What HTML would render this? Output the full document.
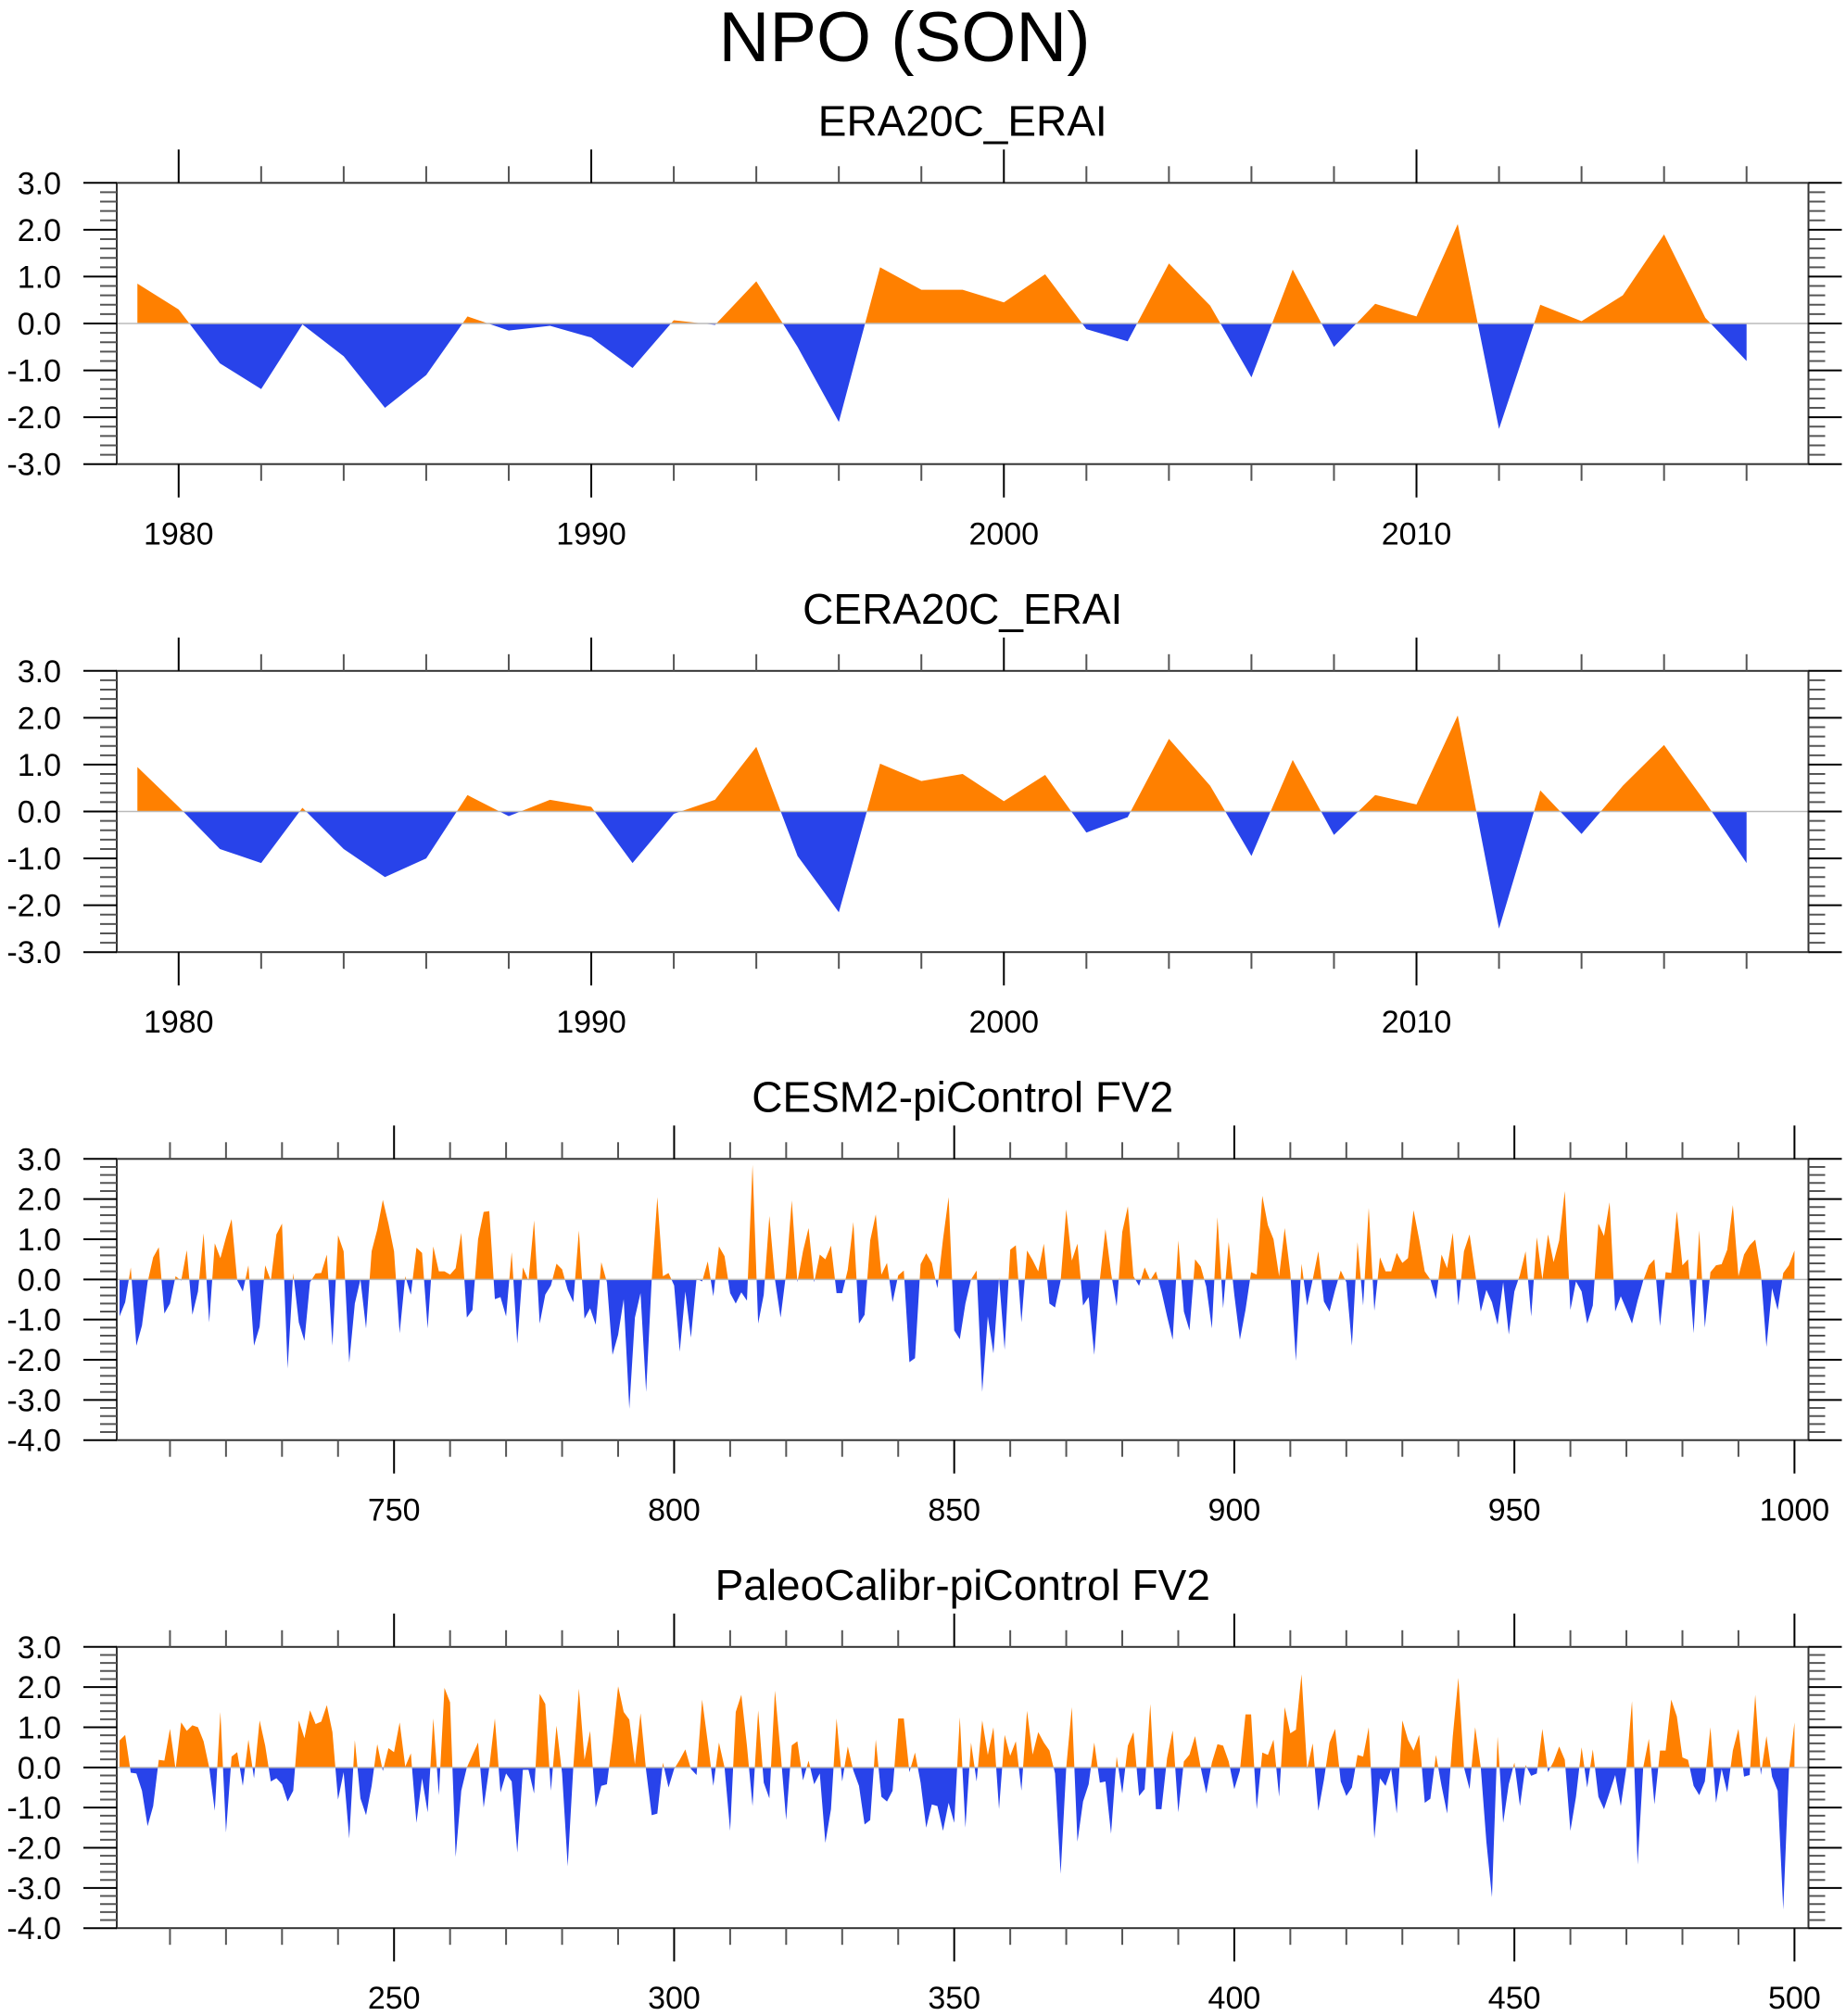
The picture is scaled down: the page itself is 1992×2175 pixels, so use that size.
<!DOCTYPE html>
<html><head><meta charset="utf-8"><style>
html,body{margin:0;padding:0;background:#fff}
svg{display:block}
text{font-family:"Liberation Sans",Arial,sans-serif;fill:#000}
</style></head>
<body>
<svg id="chart" width="1992" height="2175" viewBox="0 0 1992 2175" xmlns="http://www.w3.org/2000/svg">
<text x="976" y="66" font-size="76" text-anchor="middle">NPO (SON)</text>
</svg>
<script>
// ---- data ----
const eraYears = [1979,1980,1981,1982,1983,1984,1985,1986,1987,1988,1989,1990,1991,1992,1993,1994,1995,1996,1997,1998,1999,2000,2001,2002,2003,2004,2005,2006,2007,2008,2009,2010,2011,2012,2013,2014,2015,2016,2017,2018];
const era20cValues = [0.85,0.3,-0.85,-1.4,-0.02,-0.7,-1.8,-1.1,0.15,-0.15,-0.05,-0.3,-0.95,0.07,-0.03,0.9,-0.5,-2.1,1.2,0.72,0.72,0.45,1.05,-0.12,-0.38,1.28,0.38,-1.15,1.15,-0.5,0.42,0.15,2.12,-2.25,0.4,0.05,0.6,1.9,0.12,-0.8];
const cera20cValues = [0.95,0.1,-0.8,-1.1,0.08,-0.8,-1.4,-1.0,0.35,-0.1,0.25,0.1,-1.1,-0.05,0.25,1.38,-0.95,-2.15,1.02,0.65,0.8,0.22,0.78,-0.45,-0.12,1.55,0.55,-0.95,1.1,-0.5,0.35,0.15,2.05,-2.5,0.45,-0.48,0.55,1.42,0.2,-1.1];
const cesmStartYear = 701;
const cesmValues = [
-0.92,-0.57,0.3,-1.65,-1.15,-0.07,0.55,0.8,-0.85,-0.6,0.08,-0.03,0.73,-0.88,-0.3,1.15,-1.07,0.9,0.53,1.05,
1.5,-0.02,-0.3,0.35,-1.65,-1.18,0.35,-0.03,1.12,1.39,-2.22,0.16,-1.07,-1.53,-0.07,0.15,0.16,0.62,-1.65,1.1,
0.7,-2.07,-0.6,0,-1.22,0.7,1.24,1.98,1.39,0.7,-1.34,0.08,-0.38,0.79,0.66,-1.22,0.82,0.2,0.2,0.12,
0.28,1.16,-0.95,-0.76,1.0,1.68,1.7,-0.49,-0.44,-0.92,0.68,-1.6,0.3,-0.03,1.47,-1.1,-0.38,-0.15,0.39,0.25,
-0.26,-0.57,1.22,-0.98,-0.72,-1.13,0.43,-0.07,-1.88,-1.38,-0.49,-3.22,-0.95,-0.34,-2.8,0,2.05,0.08,0.16,-0.15,
-1.8,-0.3,-1.45,0.02,-0.05,0.45,-0.42,0.82,0.58,-0.34,-0.6,-0.32,-0.53,2.85,-1.1,-0.38,1.58,0,-0.95,0.16,
1.97,-0.07,0.7,1.28,-0.07,0.62,0.5,0.84,-0.34,-0.34,0.24,1.43,-1.1,-0.88,0.97,1.62,0.12,0.41,-0.57,0.1,
0.22,-2.06,-1.96,0.38,0.65,0.41,-0.22,1.0,2.05,-1.27,-1.49,-0.6,0,0.22,-2.8,-0.92,-1.84,0.05,-1.75,0.74,
0.85,-1.07,0.72,0.48,0.2,0.89,-0.6,-0.7,-0.03,1.74,0.47,0.89,-0.65,-0.44,-1.88,0,1.25,0.16,-0.67,1.18,
1.82,0.08,-0.16,0.3,-0.02,0.2,-0.3,-0.92,-1.5,0.97,-0.8,-1.27,0.5,0.32,-0.18,-1.22,1.55,-0.72,0.93,-0.38,
-1.5,-0.76,0.18,0.12,2.08,1.35,1.0,0.08,1.28,0.16,-2.03,0.39,-0.65,0,0.7,-0.55,-0.8,-0.26,0.22,-0.07,
-1.65,0.93,-0.65,1.78,-0.78,0.55,0.2,0.2,0.66,0.41,0.53,1.72,1.0,0.2,0,-0.49,0.62,0.28,1.16,-0.65,
0.7,1.12,0.16,-0.8,-0.26,-0.57,-1.13,-0.07,-1.37,-0.3,0.12,0.7,-0.92,1.05,0,1.12,0.43,0.97,2.2,-0.76,
-0.05,-0.3,-1.1,-0.65,1.39,1.08,1.92,-0.8,-0.42,-0.75,-1.1,-0.53,-0.03,0.35,0.5,-1.16,0.18,0.16,1.7,0.35,
0.5,-1.34,1.22,-1.2,0.18,0.35,0.38,0.74,1.85,0.08,0.62,0.85,0.99,0.16,-1.68,-0.22,-0.76,0.16,0.35,0.72];
const paleoStartYear = 201;
const paleoValues = [
0.67,0.81,-0.13,-0.15,-0.58,-1.46,-0.96,0.19,0.17,0.96,-0.04,1.12,0.91,1.05,1.0,0.65,0,-1.08,1.38,-1.62,
0.27,0.38,-0.46,0.69,-0.27,1.17,0.54,-0.35,-0.27,-0.42,-0.85,-0.58,1.17,0.73,1.42,1.08,1.14,1.55,0.88,-0.8,
-0.12,-1.77,0.68,-0.77,-1.19,-0.46,0.58,-0.09,0.48,0.38,1.12,0.02,0.35,-1.38,-0.27,-1.12,1.22,-0.69,1.98,1.62,
-2.23,-0.58,0,0.31,0.62,-1.0,0,1.22,-0.62,-0.15,-0.35,-2.12,-0.06,-0.06,-0.65,1.83,1.58,-0.58,1.04,-0.15,
-2.46,0,1.96,0.19,0.91,-1.0,-0.46,-0.42,0.69,2.02,1.38,1.19,0.08,1.35,-0.08,-1.19,-1.15,0.12,-0.5,-0.04,
0.19,0.45,-0.04,-0.19,1.69,0.63,-0.46,0.62,0,-1.58,1.38,1.81,0.54,-0.96,1.42,-0.38,-0.77,1.91,0.38,-1.31,
0.55,0.65,-0.32,0.17,-0.42,-0.15,-1.88,-1.04,1.22,-0.35,0.52,-0.08,-0.46,-1.42,-1.31,0.69,-0.73,-0.85,-0.58,1.22,
1.22,-0.12,0.37,-0.38,-1.5,-0.92,-0.96,-1.58,-0.88,-1.38,1.25,-1.5,0.62,-0.35,1.17,0.31,1.0,-1.04,0.81,0.29,
0.65,-0.58,1.41,0.32,0.88,0.62,0.42,-0.15,-2.65,0,1.5,-1.85,-0.85,-0.42,0.62,-0.38,-0.35,-1.65,0.27,-0.65,
0.54,0.88,-0.71,-0.54,1.58,-1.04,-1.04,0.23,0.92,-1.12,0.15,0.32,0.78,0,-0.65,0.12,0.58,0.54,0.15,-0.54,
-0.08,1.32,1.32,-1.04,0.37,0.31,0.69,-0.73,1.5,0.85,0.94,2.32,-0.04,0.6,-1.08,-0.31,0.62,0.96,-0.35,-0.71,
-0.5,0.31,0.27,1.0,-1.77,-0.27,-0.46,-0.04,-1.15,1.17,0.69,0.42,0.81,-0.88,-0.78,0.31,-0.46,-1.15,0.77,2.23,
0,-0.54,1.0,0,-1.85,-3.23,0.77,-1.38,-0.42,0.12,-0.96,0.06,-0.21,-0.15,0.96,-0.12,0.15,0.52,0.19,-1.58,
-0.73,0.5,-0.5,0.45,-0.73,-1.04,-0.62,-0.19,-0.96,0,1.65,-2.42,0,0.71,-0.92,0.42,0.42,1.69,1.27,0.25,
0.19,-0.46,-0.69,-0.35,1.0,-0.88,-0.04,-0.62,0.42,0.96,-0.23,-0.19,1.81,-0.19,0.78,-0.23,-0.58,-3.54,-0.08,1.12];
const panelTitles = ["ERA20C_ERAI","CERA20C_ERAI","CESM2-piControl FV2","PaleoCalibr-piControl FV2"];
const yLabelsA = ["-3.0","-2.0","-1.0","0.0","1.0","2.0","3.0"];
const yLabelsB = ["-4.0","-3.0","-2.0","-1.0","0.0","1.0","2.0","3.0"];
const xMajorA = [1980,1990,2000,2010];
const xMajorC = [750,800,850,900,950,1000];
const xMajorD = [250,300,350,400,450,500];

const NS = "http://www.w3.org/2000/svg";
const svg = document.getElementById('chart');
function mk(tag, attrs, parent){
  const e = document.createElementNS(NS, tag);
  for (const k in attrs) e.setAttribute(k, attrs[k]);
  (parent||svg).appendChild(e);
  return e;
}
const X0 = 126, X1 = 1951.5, PH = 303.4;
const tops = [197.3, 723.8, 1250.3, 1776.8];

function drawPanel(i, years, vals, xmin, xmax, ymin, ymax, yLabels, xMajor, minorStep){
  const top = tops[i], bot = top + PH;
  const g = mk('g', {});
  
  
  const sx = v => X0 + (v - xmin) / (xmax - xmin) * (X1 - X0);
  const sy = v => bot - (v - ymin) / (ymax - ymin) * PH;
  const t = mk('text', {x: (X0+X1)/2, y: top - 51, 'font-size': 46, 'text-anchor': 'middle'}, g);
  
  
  t.textContent = panelTitles[i];
  const y0 = sy(0);
  let d = 'M' + sx(years[0]) + ',' + y0;
  for (let k = 0; k < vals.length; k++) d += ' L' + sx(years[k]).toFixed(2) + ',' + sy(vals[k]).toFixed(2);
  d += ' L' + sx(years[years.length-1]) + ',' + y0 + ' Z';
  const cu = 'cu' + i, cd = 'cd' + i;
  const defs = mk('defs', {}, g);
  const c1 = mk('clipPath', {id: cu}, defs); mk('rect', {x: X0, y: top, width: X1-X0, height: y0-top}, c1);
  const c2 = mk('clipPath', {id: cd}, defs); mk('rect', {x: X0, y: y0, width: X1-X0, height: bot-y0}, c2);
  const pos = mk('path', {d: d, fill: '#ff8000', 'clip-path': 'url(#' + cu + ')'}, g);
  
  
  const neg = mk('path', {d: d, fill: '#2843ea', 'clip-path': 'url(#' + cd + ')'}, g);
  
  
  const zl = mk('line', {x1: X0, x2: X1, y1: y0, y2: y0, stroke: '#bbb', 'stroke-width': 1.5}, g);
  
  
  const box = mk('rect', {x: X0, y: top, width: X1-X0, height: PH, fill: 'none', stroke: '#333', 'stroke-width': 2}, g);
  
  
  for (let v = ymin; v <= ymax + 1e-6; v += 0.2) {
    const r = Math.round(v*10)/10;
    const major = Math.abs(r - Math.round(r)) < 1e-6;
    const L = major ? 36 : 18, y = sy(r);
    mk('line', {x1: X0-L, x2: X0, y1: y, y2: y, stroke: major ? '#000' : '#555', 'stroke-width': 2}, g);
    mk('line', {x1: X1, x2: X1+L, y1: y, y2: y, stroke: major ? '#000' : '#555', 'stroke-width': 2}, g);
  }
  yLabels.forEach((lab, k) => {
    const tx = mk('text', {x: 66, y: sy(ymin + k) + 12, 'font-size': 34, 'text-anchor': 'end'}, g);
    
    
    tx.textContent = lab;
  });
  const start = Math.ceil(xmin / minorStep) * minorStep;
  for (let v = start; v <= xmax; v += minorStep) {
    const major = xMajor.includes(v);
    const L = major ? 36 : 18, x = sx(v);
    mk('line', {x1: x, x2: x, y1: top-L, y2: top, stroke: major ? '#000' : '#555', 'stroke-width': 2}, g);
    mk('line', {x1: x, x2: x, y1: bot, y2: bot+L, stroke: major ? '#000' : '#555', 'stroke-width': 2}, g);
  }
  xMajor.forEach(v => {
    const tx = mk('text', {x: sx(v), y: bot + 87, 'font-size': 34, 'text-anchor': 'middle'}, g);
    
    
    tx.textContent = String(v);
  });
}
const cesmYears = cesmValues.map((_, k) => cesmStartYear + k);
const paleoYears = paleoValues.map((_, k) => paleoStartYear + k);
drawPanel(0, eraYears, era20cValues, 1978.5, 2019.5, -3, 3, yLabelsA, xMajorA, 2);
drawPanel(1, eraYears, cera20cValues, 1978.5, 2019.5, -3, 3, yLabelsA, xMajorA, 2);
drawPanel(2, cesmYears, cesmValues, 700.5, 1002.5, -4, 3, yLabelsB, xMajorC, 10);
drawPanel(3, paleoYears, paleoValues, 200.5, 502.5, -4, 3, yLabelsB, xMajorD, 10);
</script>
</body></html>
